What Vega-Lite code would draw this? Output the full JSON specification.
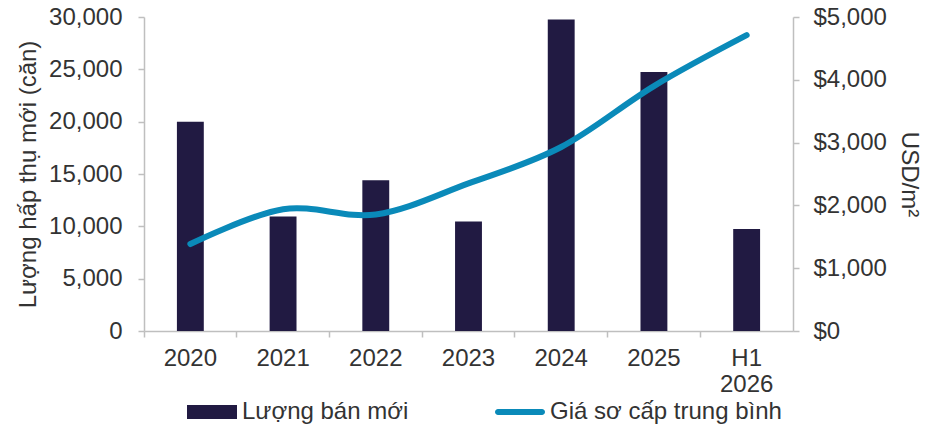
{
  "$schema": "https://vega.github.io/schema/vega-lite/v6.json",
  "width": 649,
  "height": 314,
  "autosize": {"type": "none"},
  "padding": {"left": 144, "top": 17, "right": 140, "bottom": 116},
  "background": "white",
  "data": {
    "values": [
      {"period": "2020", "sales": 20000, "price": 1385},
      {"period": "2021", "sales": 10950, "price": 1940},
      {"period": "2022", "sales": 14400, "price": 1855},
      {"period": "2023", "sales": 10450, "price": 2350},
      {"period": "2024", "sales": 29750, "price": 2930},
      {"period": "2025", "sales": 24750, "price": 3900},
      {"period": "H1 2026", "sales": 9750, "price": 4710}
    ]
  },
  "encoding": {
    "x": {
      "field": "period",
      "type": "ordinal",
      "sort": null,
      "scale": {"paddingInner": 0, "paddingOuter": 0},
      "axis": {
        "title": null,
        "labelAngle": 0,
        "bandPosition": 0,
        "labelExpr": "datum.label == 'H1 2026' ? ['H1', '2026'] : datum.label",
        "labelLineHeight": 26,
        "labelPadding": 9
      }
    }
  },
  "layer": [
    {
      "mark": {"type": "bar", "width": {"band": 0.29}},
      "encoding": {
        "y": {
          "field": "sales",
          "type": "quantitative",
          "scale": {"domain": [0, 30000], "nice": false},
          "axis": {
            "title": "Lượng hấp thụ mới (căn)",
            "format": ",d",
            "values": [0, 5000, 10000, 15000, 20000, 25000, 30000],
            "labelPadding": 16,
            "titlePadding": 8
          }
        },
        "fill": {
          "datum": "Lượng bán mới",
          "scale": {"range": ["#211a42"]},
          "legend": {
            "title": null,
            "orient": "none",
            "legendX": 43,
            "legendY": 370,
            "symbolType": "M-1,-0.28H1V0.28H-1Z",
            "symbolSize": 2500,
            "symbolStrokeWidth": 0
          }
        }
      }
    },
    {
      "mark": {"type": "line", "interpolate": "cardinal", "strokeWidth": 6, "strokeCap": "round"},
      "encoding": {
        "y": {
          "field": "price",
          "type": "quantitative",
          "scale": {"domain": [0, 5000], "nice": false},
          "axis": {
            "orient": "right",
            "title": "USD/m²",
            "format": "$,d",
            "values": [0, 1000, 2000, 3000, 4000, 5000],
            "labelPadding": 14,
            "titlePadding": 10
          }
        },
        "stroke": {
          "datum": "Giá sơ cấp trung bình",
          "scale": {"range": ["#0a8ab9"]},
          "legend": {
            "title": null,
            "orient": "none",
            "legendX": 351,
            "legendY": 370,
            "symbolType": "M-0.88,-0.12H0.88A0.12,0.12 0 0 1 0.88,0.12H-0.88A0.12,0.12 0 0 1 -0.88,-0.12Z",
            "symbolSize": 2500,
            "symbolFillColor": "#0a8ab9",
            "symbolStrokeWidth": 0,
            "labelLimit": 400
          }
        }
      }
    }
  ],
  "resolve": {"scale": {"y": "independent"}},
  "config": {
    "view": {"stroke": null},
    "font": "Liberation Sans",
    "axis": {
      "grid": false,
      "domainColor": "#bfbfbf",
      "domainWidth": 1.5,
      "tickColor": "#bfbfbf",
      "tickWidth": 1.5,
      "tickSize": 6,
      "labelFont": "Liberation Sans",
      "labelFontSize": 24,
      "labelColor": "#333333",
      "titleFont": "Liberation Sans",
      "titleFontSize": 24,
      "titleFontWeight": "normal",
      "titleColor": "#333333"
    },
    "legend": {
      "labelFont": "Liberation Sans",
      "labelFontSize": 24,
      "labelColor": "#333333",
      "labelOffset": 5,
      "labelLimit": 400
    }
  }
}
